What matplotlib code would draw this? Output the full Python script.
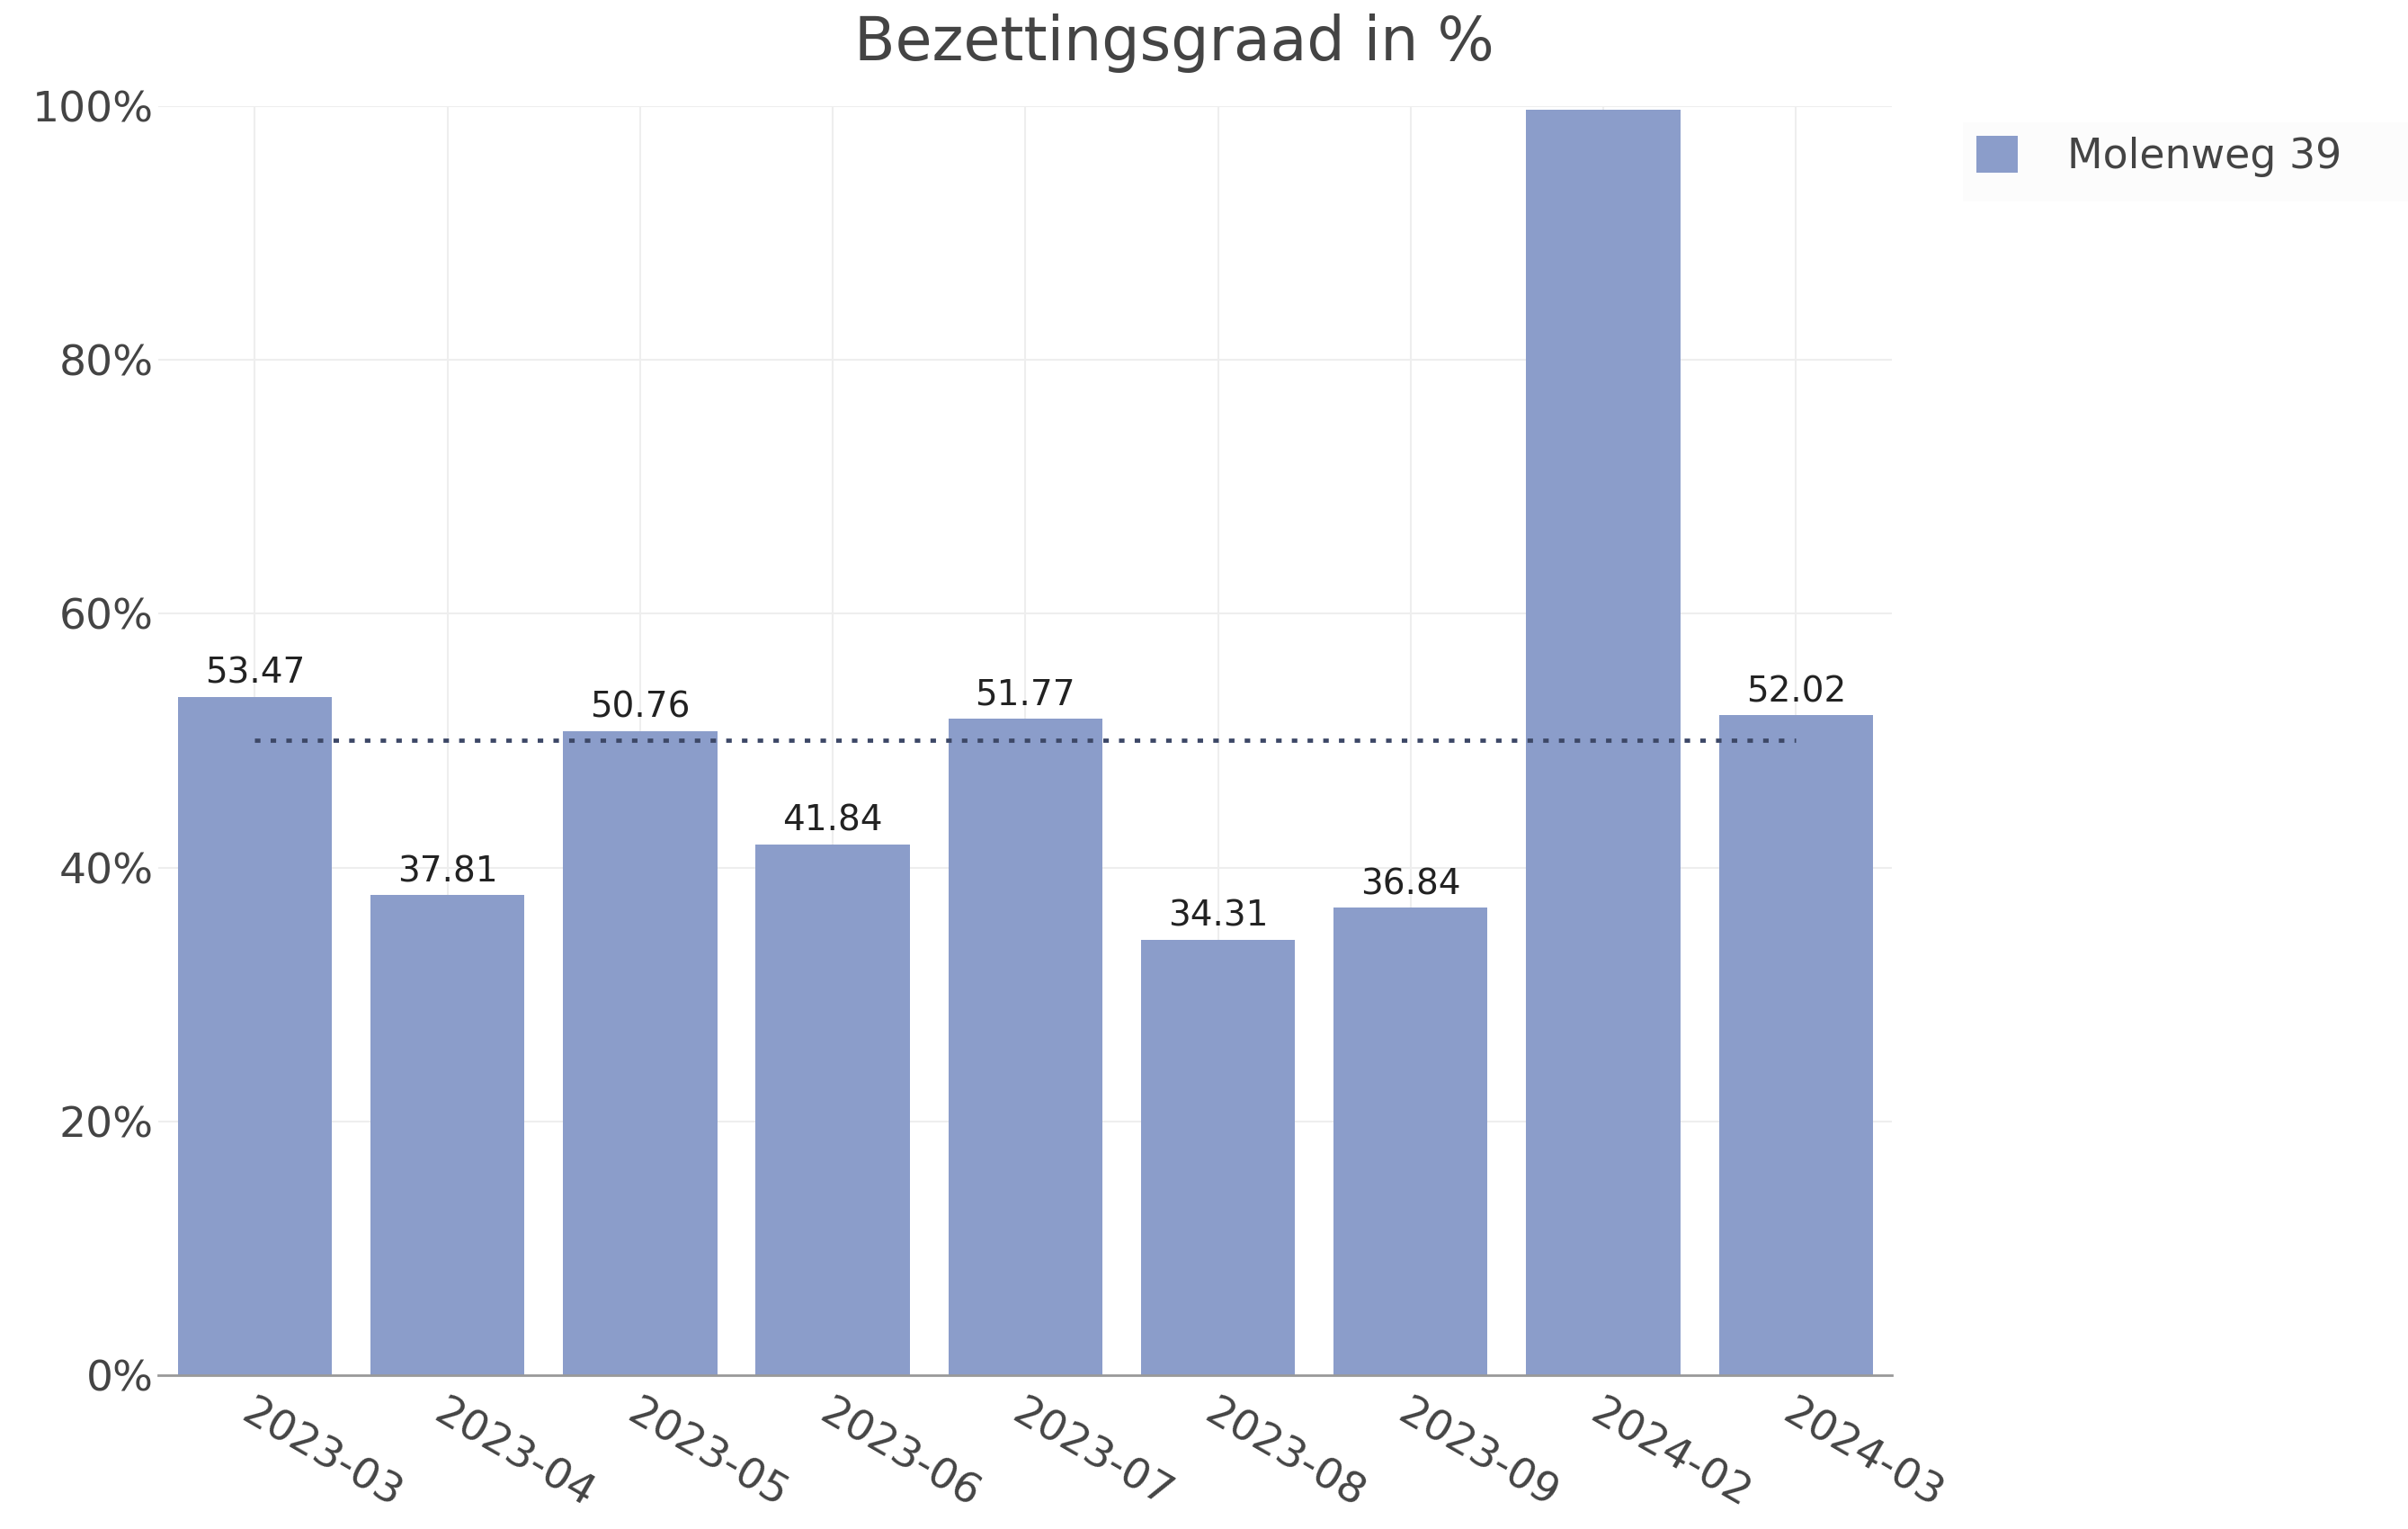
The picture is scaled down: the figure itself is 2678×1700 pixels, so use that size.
import matplotlib.pyplot as plt
from matplotlib.patches import Rectangle
from matplotlib.ticker import FuncFormatter

# data
months = ['2023-03', '2023-04', '2023-05', '2023-06', '2023-07',
          '2023-08', '2023-09', '2024-02', '2024-03']
occupancy = [53.47, 37.81, 50.76, 41.84, 51.77, 34.31, 36.84, 99.7, 52.02]
target = 50
series_name = 'Molenweg 39'

bar_color = '#8b9dca'
text_color = '#444444'

plt.rcParams['font.family'] = ['DejaVu Sans']

fig = plt.figure(figsize=(26.78, 17), dpi=100)
ax = fig.add_axes([0.0658, 0.1006, 0.72, 0.83])

x = list(range(len(months)))
ax.bar(x, occupancy, width=0.8, color=bar_color, label=series_name, zorder=2)

# value labels above bars (clipped by the plot area like the original)
for i, v in enumerate(occupancy):
    ax.annotate(f'{v:.2f}', (i, v), xytext=(0, 5), textcoords='offset points',
                ha='center', va='bottom', fontsize=28, color='#222222',
                clip_on=True, zorder=4)

# dotted target line
ax.hlines(target, 0, len(months) - 1, colors='#3c4766', linestyles=(0, (1.3, 2.4)),
          linewidth=3.4, zorder=3)

ax.set_xlim(-0.5, len(months) - 0.5)
ax.set_ylim(0, 100)
ax.set_yticks(range(0, 101, 20))
ax.yaxis.set_major_formatter(FuncFormatter(lambda v, p: f'{v:.0f}%'))
ax.set_xticks(x)
ax.set_xticklabels(months, rotation=-30, ha='left', va='top', rotation_mode='anchor')

ax.tick_params(axis='both', length=0, labelsize=34, labelcolor=text_color)
ax.tick_params(axis='x', pad=14)
ax.tick_params(axis='y', pad=4)

ax.grid(True, color='#eeeeee', linewidth=1.5)
ax.set_axisbelow(True)
for side in ['top', 'right', 'left']:
    ax.spines[side].set_visible(False)
ax.spines['bottom'].set_color('#999999')
ax.spines['bottom'].set_linewidth(2)
ax.spines['bottom'].set_zorder(5)

fig.text(0.4877, 0.972, 'Bezettingsgraad in %', ha='center', va='center',
         fontsize=48, color=text_color)

# legend with faint background box
fig.patches.append(Rectangle((0.815, 0.868), 0.185, 0.052, transform=fig.transFigure,
                             facecolor='#fcfcfc', edgecolor='none', zorder=0))
fig.legend(loc='center left', bbox_to_anchor=(0.8208, 0.8976), frameon=False,
           fontsize=33, handlelength=1, handleheight=1, handletextpad=1.2,
           borderpad=0, borderaxespad=0, labelcolor=text_color)

fig.savefig('out.png', dpi=100)
